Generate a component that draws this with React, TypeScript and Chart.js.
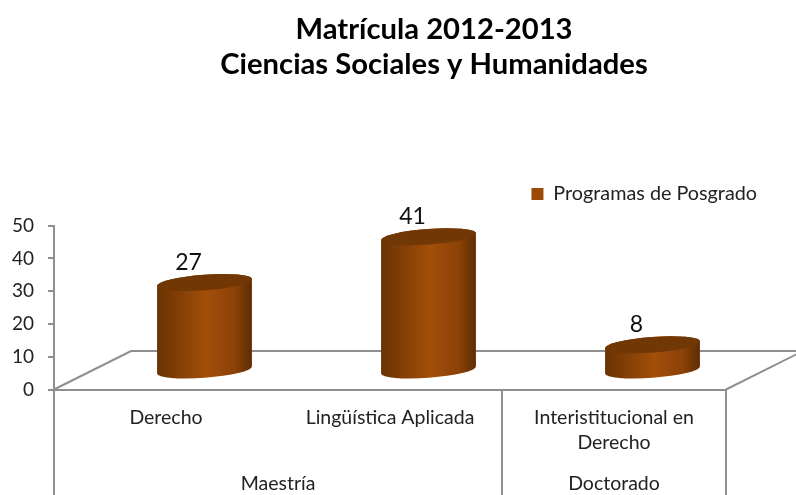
import React, { useEffect, useRef } from "react";
import { Chart, registerables } from "chart.js";

Chart.register(...registerables);

const titleLines = ["Matrícula 2012-2013", "Ciencias Sociales y Humanidades"];
const categories: (string | string[])[] = ["Derecho", "Lingüística Aplicada", ["Interistitucional en", "Derecho"]];
const values = [27, 41, 8];
const seriesName = "Programas de Posgrado";
const groupLabels = ["Maestría", "Doctorado"];
const groupSpans = [2, 1];
const yMax = 50;
const yStep = 10;

const FONT = "Lato";
const GRAY = "#8f8f8f";
const BROWN = "#9c4a08";

const DEPTH_X = 38.5;
const DEPTH_Y = 18.5;
const FLOOR_DX = 77;
const FLOOR_DY = 38.5;

const cylinderPlugin = {
  id: "cylinders",
  afterLayout(chart: any) {
    const t = chart.titleBlock;
    t.left = 38; t.right = 830;
    const l = chart.legend;
    l.left = 0; l.right = 762; l.top = 179; l.bottom = 179 + l.height;
  },
  beforeDatasetsDraw(chart: any) {
    const { ctx, chartArea: a, scales } = chart;
    const x = scales.x;
    ctx.save();
    ctx.strokeStyle = GRAY;
    ctx.lineWidth = 2;
    const step = a.width / categories.length;
    ctx.beginPath();
    // floor
    ctx.moveTo(a.left, a.bottom);
    ctx.lineTo(a.left + FLOOR_DX, a.bottom - FLOOR_DY);
    ctx.lineTo(796, a.bottom - FLOOR_DY);
    ctx.moveTo(a.right, a.bottom);
    ctx.lineTo(a.right + FLOOR_DX, a.bottom - FLOOR_DY);
    // multi-level separators
    let idx = 0;
    for (let g = 0; g <= groupSpans.length; g++) {
      const px = x.getPixelForValue(idx) - step / 2;
      ctx.moveTo(px, a.bottom);
      ctx.lineTo(px, 495);
      if (g < groupSpans.length) idx += groupSpans[g];
    }
    ctx.stroke();
    // second-level labels
    ctx.fillStyle = "#222222";
    ctx.font = `19.5px ${FONT}`;
    ctx.textAlign = "center";
    ctx.textBaseline = "middle";
    idx = 0;
    groupLabels.forEach((lab, g) => {
      const c = (x.getPixelForValue(idx) + x.getPixelForValue(idx + groupSpans[g] - 1)) / 2;
      ctx.fillText(lab, c, 484);
      idx += groupSpans[g];
    });
    ctx.restore();
  },
  beforeDatasetDraw(chart: any, args: any) {
    const { ctx } = chart;
    const meta = args.meta;
    meta.data.forEach((bar: any, i: number) => {
      const rx = bar.width / 2;
      const ry = 7.8;
      const rot = -0.074;
      const cx = bar.x + DEPTH_X;
      const top = bar.y - DEPTH_Y;
      const base = bar.base - DEPTH_Y;
      const lx = -rx * Math.cos(rot), ly = -rx * Math.sin(rot);
      ctx.save();
      const g = ctx.createLinearGradient(cx - rx, 0, cx + rx, 0);
      g.addColorStop(0, "#6a3404");
      g.addColorStop(0.2, "#7f3d06");
      g.addColorStop(0.52, "#a24f0a");
      g.addColorStop(0.82, "#8a4206");
      g.addColorStop(1, "#5c2c03");
      ctx.fillStyle = g;
      ctx.beginPath();
      ctx.moveTo(cx + lx, top + ly);
      ctx.lineTo(cx + lx, base + ly);
      ctx.ellipse(cx, base, rx, ry, rot, Math.PI, 0, true);
      ctx.lineTo(cx - lx, top - ly);
      ctx.ellipse(cx, top, rx, ry, rot, 0, Math.PI, true);
      ctx.closePath();
      ctx.fill();
      ctx.fillStyle = "#713705";
      ctx.beginPath();
      ctx.ellipse(cx, top, rx, ry, rot, 0, Math.PI * 2);
      ctx.fill();
      ctx.fillStyle = "#111111";
      ctx.font = `23px ${FONT}`;
      ctx.textAlign = "center";
      ctx.textBaseline = "middle";
      ctx.fillText(String(values[i]), bar.x + 22.5, bar.y - 38.5);
      ctx.restore();
    });
    return false;
  },
};

export default function App() {
  const ref = useRef<HTMLCanvasElement>(null);
  useEffect(() => {
    const chart = new Chart(ref.current!, {
      type: "bar",
      data: {
        labels: categories as any,
        datasets: [{
          label: seriesName,
          data: values,
          backgroundColor: BROWN,
          categoryPercentage: 1,
          barPercentage: 0.4245,
        }],
      },
      plugins: [cylinderPlugin],
      options: {
        responsive: false,
        animation: false,
        layout: { padding: { left: 0, right: 70, top: 0, bottom: 0 } },
        plugins: {
          tooltip: { enabled: false },
          title: {
            display: true,
            text: titleLines,
            color: "#000000",
            font: { family: FONT, size: 29.2, weight: "bold", lineHeight: 1.2 },
            padding: { top: 12, bottom: 108.8 },
          },
          legend: {
            display: true,
            position: "top",
            align: "end",
            labels: {
              boxWidth: 12,
              boxHeight: 12,
              padding: 5,
              color: "#222222",
              font: { family: FONT, size: 19.8 },
            },
          },
        },
        scales: {
          x: {
            afterFit(s: any) { s.height = 105.5; },
            grid: { display: false },
            border: { display: true, color: GRAY, width: 2 },
            ticks: {
              autoSkip: false,
              maxRotation: 0,
              padding: 8,
              color: "#222222",
              font: { family: FONT, size: 19.5, lineHeight: 1.27 },
            },
          },
          y: {
            min: 0,
            max: yMax,
            afterFit(s: any) { s.width = 54; },
            grid: { drawOnChartArea: false, drawTicks: true, tickLength: 6, color: GRAY, lineWidth: 2 },
            border: { display: true, color: GRAY, width: 2 },
            ticks: {
              stepSize: yStep,
              padding: 14,
              color: "#222222",
              font: { family: FONT, size: 19 },
            },
          },
        },
      },
    } as any);
    return () => chart.destroy();
  }, []);
  return (
    <div style={{ position: "fixed", left: 0, top: 0, width: 796, height: 495, background: "#fff" }}>
      <canvas ref={ref} width={796} height={495} style={{ display: "block" }} />
    </div>
  );
}
